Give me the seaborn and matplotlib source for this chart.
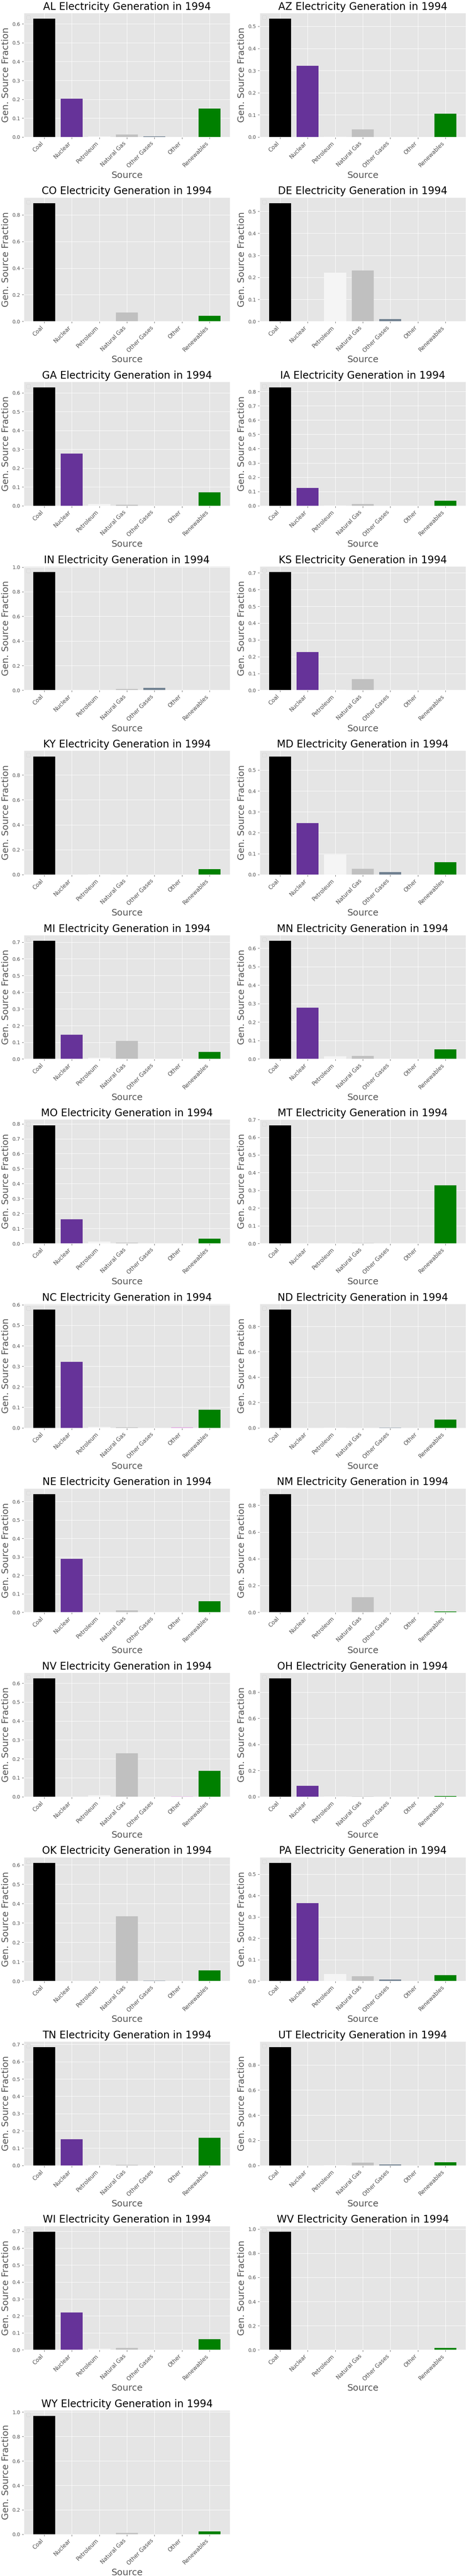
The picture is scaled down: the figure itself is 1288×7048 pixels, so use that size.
import matplotlib
matplotlib.use('Agg')
import matplotlib.pyplot as plt
import seaborn as sns

year = 1994
sources = ['Coal', 'Nuclear', 'Petroleum', 'Natural Gas', 'Other Gases', 'Other', 'Renewables']
source_colors = ['black', 'rebeccapurple', 'whitesmoke', 'silver', 'slategray', 'plum', 'green']

states = ['AL', 'AZ', 'CO', 'DE', 'GA', 'IA', 'IN', 'KS', 'KY', 'MD', 'MI', 'MN', 'MO', 'MT',
          'NC', 'ND', 'NE', 'NM', 'NV', 'OH', 'OK', 'PA', 'TN', 'UT', 'WI', 'WV', 'WY']

# fraction of generation per source, same order as `sources`
AL = [0.627, 0.203, 0.003, 0.013, 0.003, 0.0, 0.151]
AZ = [0.534, 0.322, 0.002, 0.035, 0.0, 0.0, 0.105]
CO = [0.888, 0.0, 0.001, 0.066, 0.0, 0.0, 0.043]
DE = [0.537, 0.0, 0.221, 0.231, 0.011, 0.0, 0.0]
GA = [0.628, 0.278, 0.009, 0.005, 0.0, 0.0, 0.072]
IA = [0.827, 0.126, 0.003, 0.013, 0.0, 0.0, 0.036]
IN = [0.960, 0.0, 0.002, 0.010, 0.018, 0.0, 0.002]
KS = [0.705, 0.227, 0.002, 0.066, 0.0, 0.0, 0.0]
KY = [0.948, 0.0, 0.003, 0.0, 0.0, 0.0, 0.045]
MD = [0.565, 0.247, 0.096, 0.027, 0.012, 0.0, 0.060]
MI = [0.708, 0.145, 0.008, 0.108, 0.0, 0.0, 0.042]
MN = [0.640, 0.278, 0.014, 0.016, 0.0, 0.0, 0.053]
MO = [0.790, 0.161, 0.013, 0.006, 0.0, 0.0, 0.032]
MT = [0.668, 0.0, 0.0, 0.002, 0.0, 0.0, 0.328]
NC = [0.576, 0.322, 0.005, 0.003, 0.0, 0.003, 0.089]
ND = [0.932, 0.0, 0.002, 0.0, 0.002, 0.0, 0.066]
NE = [0.641, 0.290, 0.001, 0.011, 0.0, 0.0, 0.060]
NM = [0.884, 0.0, 0.001, 0.112, 0.0, 0.0, 0.005]
NV = [0.625, 0.0, 0.008, 0.229, 0.0, 0.001, 0.136]
OH = [0.905, 0.083, 0.002, 0.002, 0.0, 0.0, 0.005]
OK = [0.610, 0.0, 0.001, 0.334, 0.002, 0.0, 0.055]
PA = [0.553, 0.365, 0.032, 0.022, 0.007, 0.001, 0.027]
TN = [0.683, 0.152, 0.004, 0.004, 0.0, 0.0, 0.160]
UT = [0.940, 0.0, 0.001, 0.022, 0.009, 0.0, 0.026]
WI = [0.697, 0.220, 0.008, 0.012, 0.0, 0.0, 0.064]
WV = [0.978, 0.0, 0.002, 0.002, 0.002, 0.0, 0.015]
WY = [0.967, 0.0, 0.0, 0.010, 0.0, 0.0, 0.022]

fractions = [AL, AZ, CO, DE, GA, IA, IN, KS, KY, MD, MI, MN, MO, MT,
             NC, ND, NE, NM, NV, OH, OK, PA, TN, UT, WI, WV, WY]

plt.style.use('ggplot')
ncols = 2
nrows = (len(states) + 1) // ncols
fig, axes = plt.subplots(nrows, ncols, figsize=(12.88, 70.48), dpi=100)
fig.subplots_adjust(left=0.0505, right=0.989, top=0.995, bottom=0.0162,
                    wspace=0.144, hspace=0.486)
axes = axes.flatten()

for ax, state, vals in zip(axes, states, fractions):
    sns.barplot(x=sources, y=vals, hue=sources, palette=source_colors,
                saturation=1, width=0.8, legend=False, ax=ax)
    # plain matplotlib margins around the bars, grid on both axes
    ax.set_xlim(-0.74, len(sources) - 0.26)
    ax.xaxis.grid(True)
    ax.set_title(f'{state} Electricity Generation in {year}', fontsize=20)
    ax.set_xlabel('Source', fontsize=18)
    ax.set_ylabel('Gen. Source Fraction', fontsize=18)
    ax.tick_params(axis='y', labelsize=10)
    ax.tick_params(axis='x', labelsize=11)
    plt.setp(ax.get_xticklabels(), rotation=45, ha='right')
    ax.legend(handles=[], loc='upper left')

for ax in axes[len(states):]:
    fig.delaxes(ax)

fig.savefig('out.png', dpi=100)
